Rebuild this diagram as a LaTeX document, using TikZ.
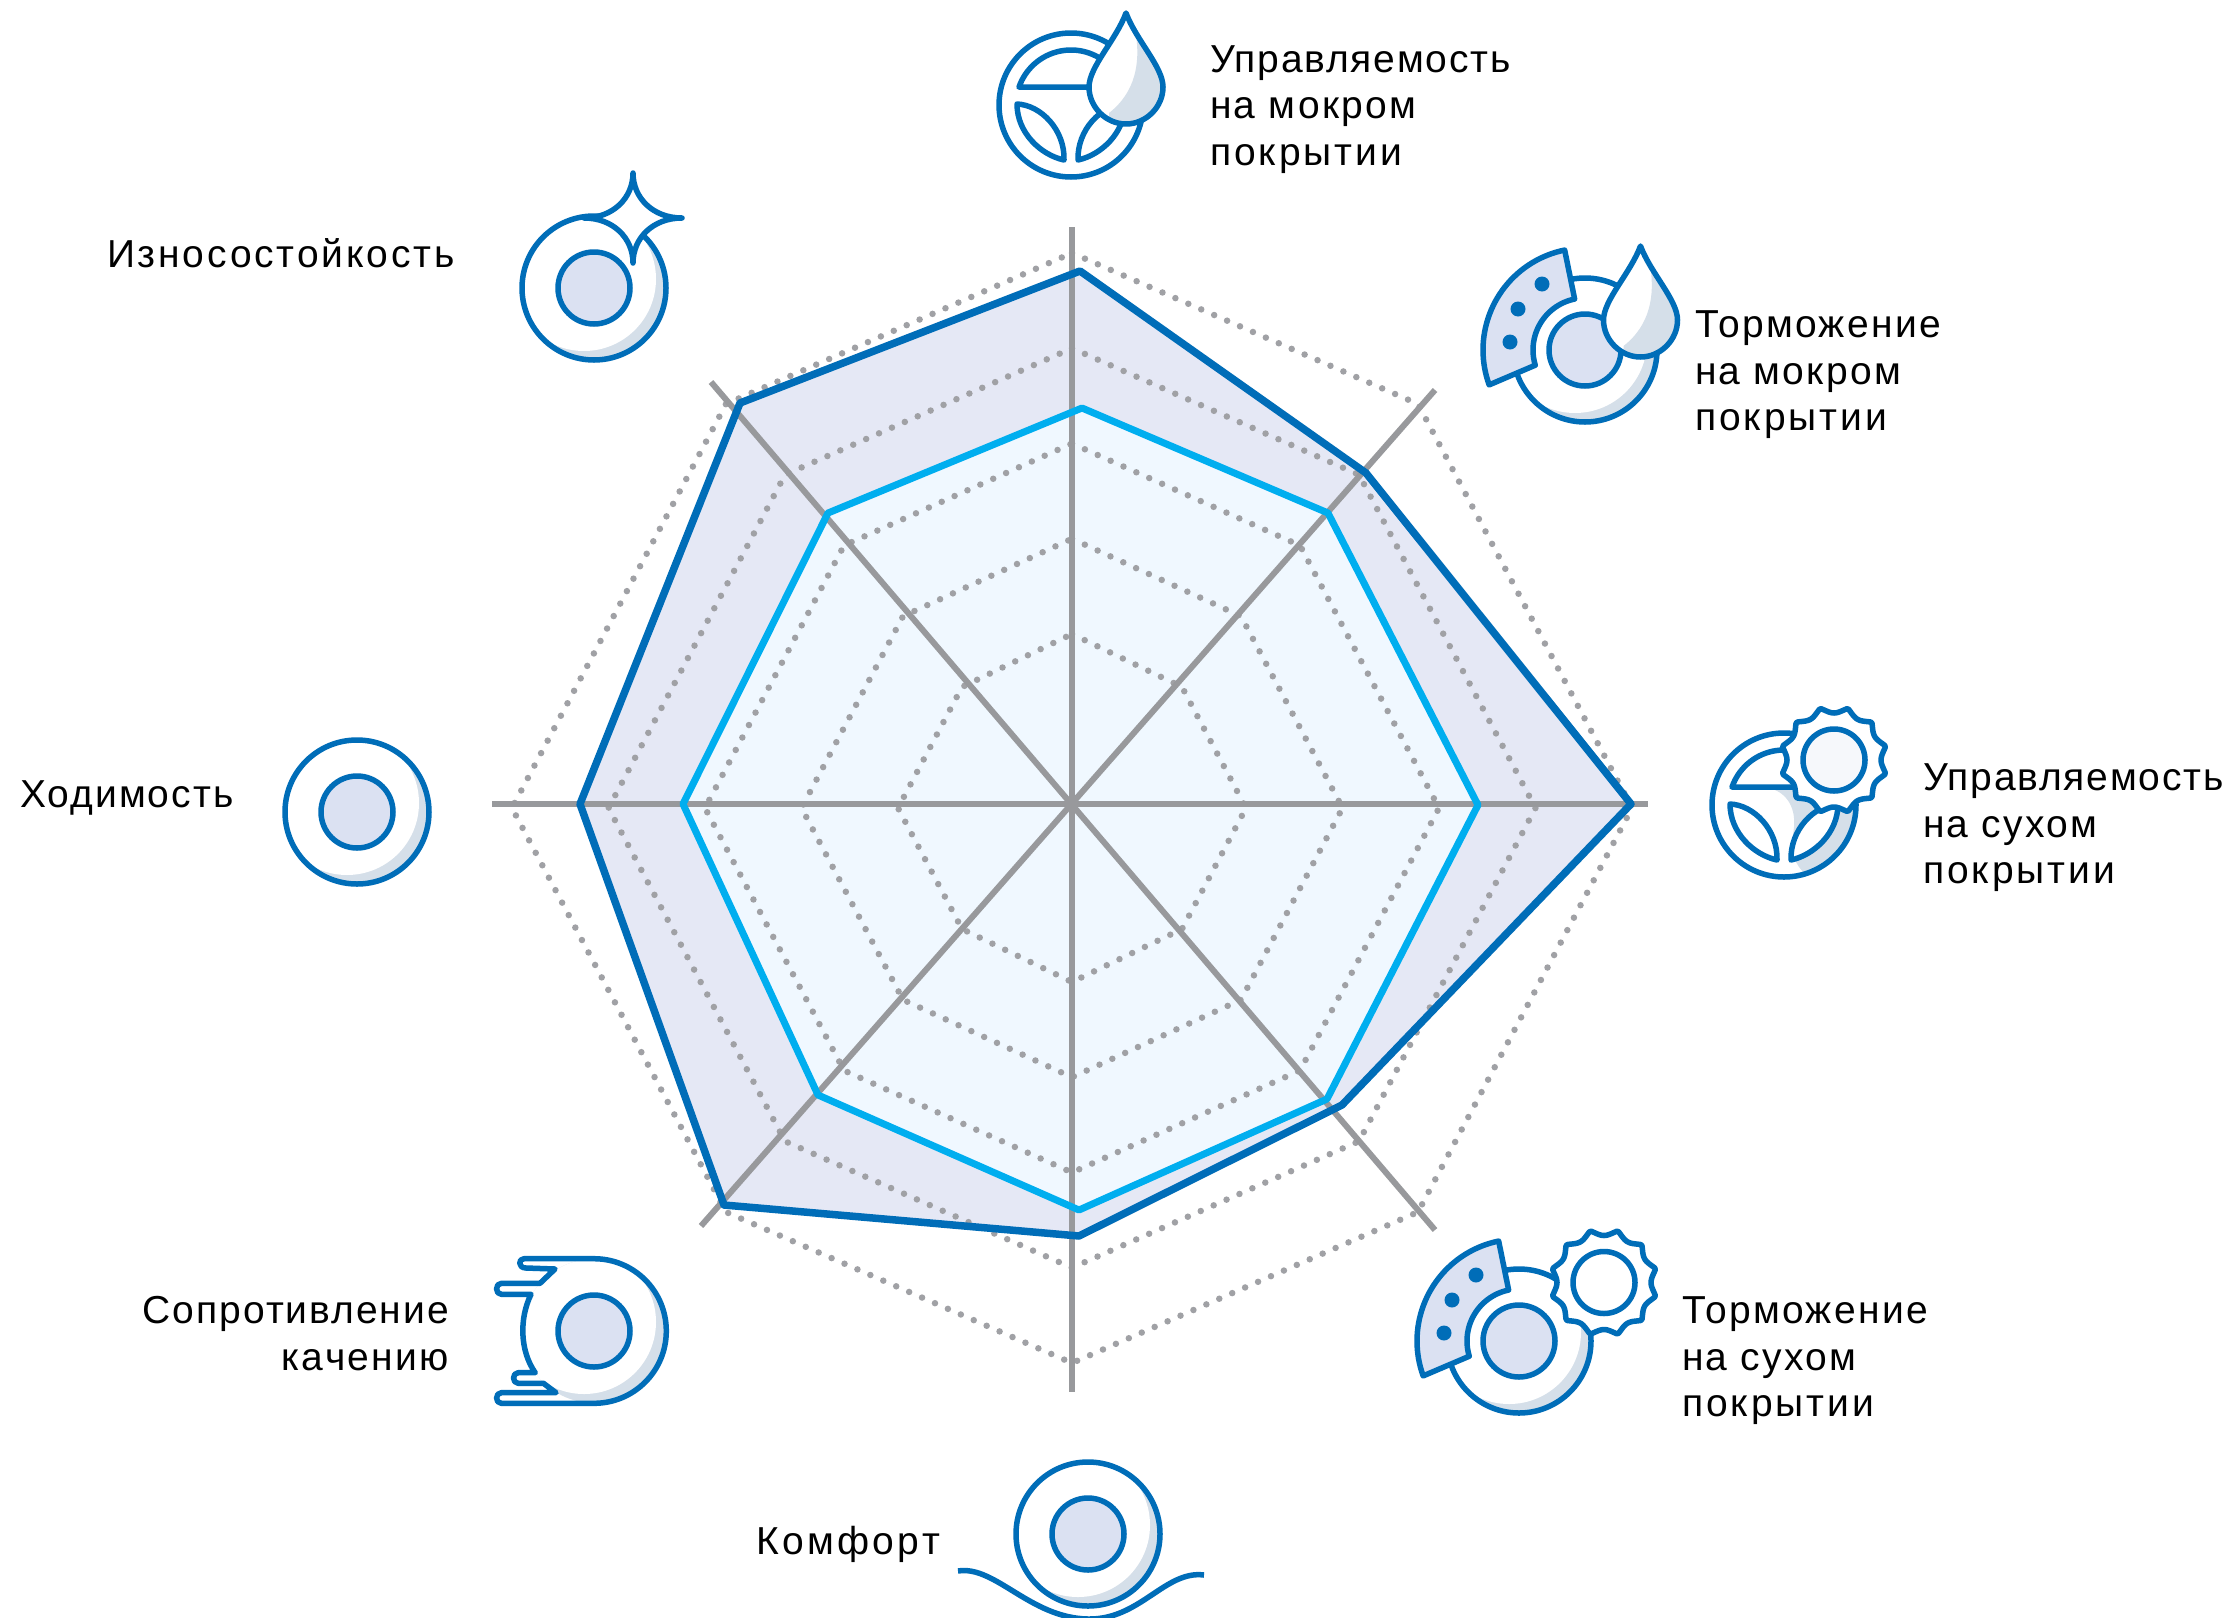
\documentclass[tikz,border=0pt]{standalone}
\usepackage{fontspec}
\setmainfont{Liberation Sans}[LetterSpace=6]
\newcommand{\spaced}[2]{{\addfontfeature{LetterSpace=#1}#2}}
\definecolor{dkblue}{HTML}{006DB8}
\definecolor{ltblue}{HTML}{00AEEF}
\definecolor{fillA}{HTML}{E5E8F5}
\definecolor{fillB}{HTML}{F0F8FF}
\definecolor{axisgray}{HTML}{98999C}
\definecolor{dotgray}{HTML}{A0A1A5}
\definecolor{iconfill}{HTML}{DBE1F2}
\definecolor{shadecol}{HTML}{D5DFE9}
\definecolor{hubfill}{HTML}{F6F8FB}
\tikzset{
 ic/.style={draw=dkblue,line width=5.5pt,line join=round,line cap=round},
 axisline/.style={draw=axisgray,line width=6pt},
 ringline/.style={draw=dotgray,line width=6.5pt,line cap=round,dash pattern=on 0pt off 14.1pt},
 lbl/.style={inner sep=0pt,outer sep=0pt,font=\fontsize{39}{46.5}\selectfont,text=black},
}
% tyre: white disc, crescent shadow, rim and hub
\newcommand{\tirebase}{%
 \fill[white] (0,0) circle (72pt);
 \begin{scope}
  \clip (0,0) circle (72pt);
  \fill[shadecol] (0,0) circle (72pt);
  \fill[white] (-10,-9) circle (72pt);
 \end{scope}}
\newcommand{\tirering}{\draw[ic] (0,0) circle (72pt);}
\newcommand{\tirehub}{\draw[ic,fill=iconfill] (0,0) circle (36pt);}
\newcommand{\gearicon}[1]{%
 \draw[ic,fill=white] plot[domain=0:360,samples=181] ({(53.5-6.5*abs(cos(6*\x)))*cos(\x)},{(53.5-6.5*abs(cos(6*\x)))*sin(\x)}) -- cycle;
 \draw[ic,fill=#1] (0,0) circle (31pt);}
\newcommand{\dropicon}{%
 \def\dropshape{(0,-74) .. controls (10,-47) and (37,-20) .. (37,0) .. controls (37,20) and (20,37) .. (0,37) .. controls (-20,37) and (-37,20) .. (-37,0) .. controls (-37,-20) and (-10,-47) .. (0,-74) -- cycle}
 \fill[white] \dropshape;
 \begin{scope}
  \clip \dropshape;
  \fill[shadecol] (10,-52) .. controls (14,-25) and (10,5) .. (-17,26) -- (-17,50) -- (50,50) -- (50,-52) -- cycle;
 \end{scope}
 \draw[ic] \dropshape;}
\newcommand{\wheelparts}{%
 \draw[ic] plot[domain=199:341,samples=40] ({55*cos(\x)},{55*sin(\x)}) -- cycle;
 \draw[ic,fill=white] (-54,-1) .. controls (-30,0) and (-6,25) .. (-7,55) .. controls (-30,50) and (-54,28) .. (-54,-1) -- cycle;
 \draw[ic,fill=white] (54,-1) .. controls (30,0) and (6,25) .. (7,55) .. controls (30,50) and (54,28) .. (54,-1) -- cycle;}
\newcommand{\padicon}{%
 \draw[ic,fill=iconfill] plot[domain=160:258.5,samples=40] ({102*cos(\x)},{102*sin(\x)}) -- plot[domain=258.5:163,samples=40] ({52*cos(\x)},{52*sin(\x)}) -- cycle;
 \fill[dkblue] (-43,-66) circle (7.5pt) (-67,-41) circle (7.5pt) (-75,-8) circle (7.5pt);}
\begin{document}
\begin{tikzpicture}[x=1pt,y=-1pt]
\useasboundingbox (0,0) rectangle (2235,1617);
\fill[white] (0,0) rectangle (2235,1617);
% data polygons
\fill[fillA] (1080,271) -- (1366,473) -- (1631,804) -- (1342,1105) -- (1079,1236) -- (724,1205) -- (580,804) -- (740,403) -- cycle;
\fill[fillB] (1082,408) -- (1328,513) -- (1478,805) -- (1327,1099) -- (1079,1210) -- (818,1095) -- (683,804) -- (828,513) -- cycle;
% dotted rings
\foreach \i in {0,...,4}{
 \pgfmathsetmacro{\rx}{174+96.5*\i}
 \pgfmathsetmacro{\ry}{174+95.25*\i}
 \pgfmathsetmacro{\dx}{110+59*\i}
 \pgfmathsetmacro{\dy}{121+70.75*\i}
 \draw[ringline] (1072,808-\ry) -- (1072+\dx,808-\dy) -- (1072+\rx,808) -- (1072+\dx,808+\dy) -- (1072,808+\ry) -- (1072-\dx,808+\dy) -- (1072-\rx,808) -- (1072-\dx,808-\dy) -- cycle;
}
% axes
\draw[axisline] (1071.5,227) -- (1071.5,1392);
\draw[axisline] (492,804) -- (1648,804);
\draw[axisline] (711,382) -- (1435,1230);
\draw[axisline] (1435,390) -- (701,1226);
% outlines
\draw[draw=dkblue,line width=7.5pt,line join=round] (1080,271) -- (1366,473) -- (1631,804) -- (1342,1105) -- (1079,1236) -- (724,1205) -- (580,804) -- (740,403) -- cycle;
\draw[draw=ltblue,line width=7pt,line join=round] (1082,408) -- (1328,513) -- (1478,805) -- (1327,1099) -- (1079,1210) -- (818,1095) -- (683,804) -- (828,513) -- cycle;
% Wet handling
\begin{scope}[shift={(1071,105)}]
 \fill[white] (0,0) circle (72pt);
 \tirering \wheelparts
\end{scope}
\begin{scope}[shift={(1126,87)}]\dropicon\end{scope}
% Wet braking
\begin{scope}[shift={(1585,350)}]
 \tirebase \tirering \tirehub \padicon
\end{scope}
\begin{scope}[shift={(1640.5,320)}]\dropicon\end{scope}
% Dry handling
\begin{scope}[shift={(1784,805)}]
 \fill[white] (0,0) circle (72pt);
 \begin{scope}
  \clip (0,0) circle (72pt);
  \fill[shadecol] (-17,-17) .. controls (0,-15) and (12,0) .. (10,22) .. controls (9,35) and (3,50) .. (20,68) -- (80,60) -- (80,-17) -- cycle;
 \end{scope}
 \tirering \wheelparts
\end{scope}
\begin{scope}[shift={(1834,760)}]\gearicon{hubfill}\end{scope}
% Dry braking
\begin{scope}[shift={(1519,1341)}]
 \tirebase \tirering \tirehub \padicon
\end{scope}
\begin{scope}[shift={(1604,1282.5)}]\gearicon{white}\end{scope}
% Comfort
\begin{scope}
 \clip (0,0) rectangle (2235,1617);
 \draw[draw=dkblue,line width=5.5pt] (958,1571) .. controls (995,1565) and (1030,1618) .. (1088,1619) .. controls (1140,1620) and (1165,1570) .. (1204,1575);
\end{scope}
\begin{scope}[shift={(1088,1534)}]
 \tirebase \tirering \tirehub
\end{scope}
% Rolling resistance
\begin{scope}[shift={(594,1331)}]
 \def\rollshape{(0,-72.3) -- (-70,-72.3) .. controls (-76,-72.3) and (-76,-63) .. (-68,-63) -- (-39,-62) -- (-54,-47.7) -- (-92.7,-47.7) .. controls (-99,-47.7) and (-99,-36.7) .. (-92.7,-36.7) -- (-63,-36.7) .. controls (-75,-12) and (-74,20) .. (-58.8,41.7) -- (-75.8,41.7) .. controls (-82,41.7) and (-82,52.3) .. (-75.8,52.3) -- (-50.5,52.3) -- (-38,61.7) -- (-92.7,61.7) .. controls (-99,61.7) and (-99,72.3) .. (-92.7,72.3) -- (0,72.3) .. controls (40,72.3) and (72.3,40) .. (72.3,0) .. controls (72.3,-40) and (40,-72.3) .. (0,-72.3) -- cycle}
 \fill[white] \rollshape;
 \begin{scope}
  \clip (0,0) circle (72pt);
  \fill[shadecol] (0,0) circle (72pt);
  \fill[white] (-10,-9) circle (72pt);
 \end{scope}
 \draw[ic] \rollshape;
 \tirehub
\end{scope}
% Tread life
\begin{scope}[shift={(594,288)}]
 \tirebase \tirering \tirehub
\end{scope}
\begin{scope}[shift={(633,218)}]
 \draw[ic,fill=white] (0,-45) .. controls (0,-20) and (20,0) .. (49,0) .. controls (20,0) and (0,20) .. (0,45) .. controls (0,20) and (-20,0) .. (-49,0) .. controls (-20,0) and (0,-20) .. (0,-45) -- cycle;
\end{scope}
% Mileage
\begin{scope}[shift={(357,812)}]
 \tirebase \tirering \tirehub
\end{scope}
% labels
\node[lbl,anchor=north west,align=left] (t1) at (1210,45.5) {\spaced{4.6}{Управляемость}\\\spaced{6.2}{на мокром}\\\spaced{7.8}{покрытии}};
\node[lbl,anchor=north west,align=left] (t2) at (1695,311) {Торможение\\на мокром\\\spaced{7.8}{покрытии}};
\node[lbl,anchor=north west,align=left] (t3) at (1923,764) {\spaced{4.6}{Управляемость}\\на сухом\\\spaced{7.8}{покрытии}};
\node[lbl,anchor=north west,align=left] (t4) at (1682,1297) {Торможение\\на сухом\\\spaced{7.8}{покрытии}};
\node[lbl,anchor=base east] (t5) at (940,1554) {\spaced{8.6}{Комфорт}};
\node[lbl,anchor=north east,align=right] (t6) at (449,1296.5) {\spaced{5.1}{Сопротивление}\\качению};
\node[lbl,anchor=base west] (t7) at (20,807) {\spaced{5.2}{Ходимость}};
\node[lbl,anchor=base west] (t8) at (107,267.5) {\spaced{7.2}{Износостойкость}};
\end{tikzpicture}
\end{document}
